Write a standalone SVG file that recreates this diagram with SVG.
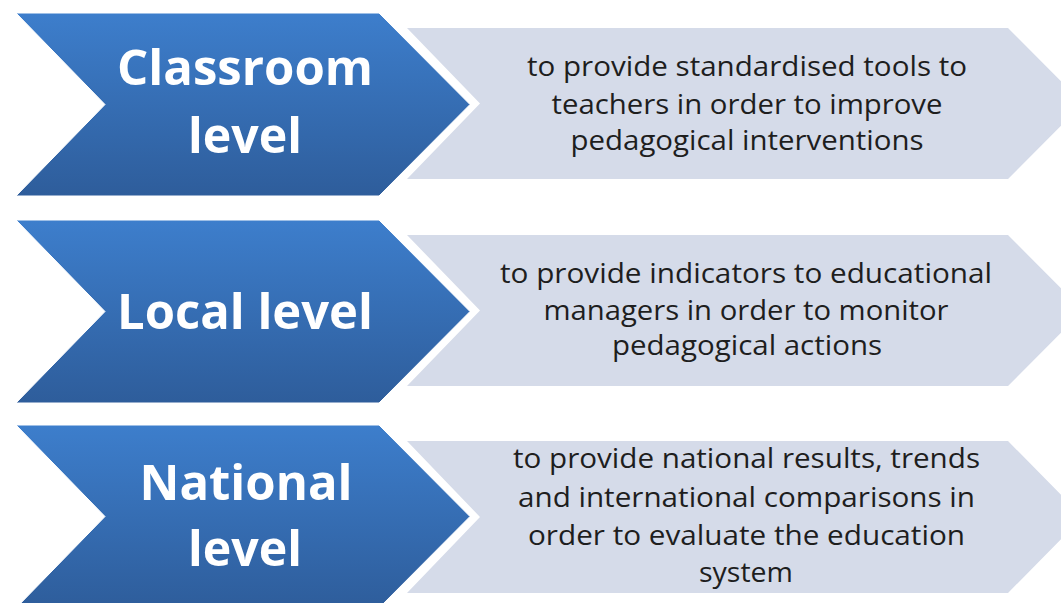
<svg xmlns="http://www.w3.org/2000/svg" width="1061" height="603" viewBox="0 0 1061 603">
<defs>
<linearGradient id="blueGrad" x1="0" y1="0" x2="0" y2="1">
<stop offset="0" stop-color="#3d7ecc"/>
<stop offset="1" stop-color="#2e5d9b"/>
</linearGradient>
</defs>
<style>
.blue{fill:url(#blueGrad);stroke:#ffffff;stroke-width:1}
.gray{fill:#d5dbe9}
.head{font-family:"Open Sans","Liberation Sans",sans-serif;font-weight:bold;font-size:49px;fill:#ffffff;text-anchor:middle}
.desc{font-family:"Open Sans","Liberation Sans",sans-serif;font-size:27px;fill:#1e1e1e;text-anchor:middle}
</style>
<rect width="1061" height="603" fill="#ffffff"/>
<g id="connectors"></g>
<g id="classroom-level">
<polygon class="blue" points="16,13 379,13 470,104.5 379,196 16,196 105,104.5"/>
<text class="head" x="245" y="85" textLength="256" lengthAdjust="spacingAndGlyphs">Classroom</text>
<text class="head" x="245" y="153" textLength="114" lengthAdjust="spacingAndGlyphs">level</text>
</g>
<g id="classroom-desc">
<polygon class="gray" points="407,28 1008,28 1083,103.5 1008,179 407,179 480,103.5"/>
<text class="desc" x="747" y="76" textLength="440" lengthAdjust="spacingAndGlyphs">to provide standardised tools to</text>
<text class="desc" x="747" y="114" textLength="391" lengthAdjust="spacingAndGlyphs">teachers in order to improve</text>
<text class="desc" x="747" y="150" textLength="353" lengthAdjust="spacingAndGlyphs">pedagogical interventions</text>
</g>
<g id="local-level">
<polygon class="blue" points="16,220 379,220 470,311.5 379,403 16,403 105,311.5"/>
<text class="head" x="245" y="328.5" textLength="256" lengthAdjust="spacingAndGlyphs">Local level</text>
</g>
<g id="local-desc">
<polygon class="gray" points="407,235 1008,235 1083,310.5 1008,386 407,386 480,310.5"/>
<text class="desc" x="746" y="283" textLength="492" lengthAdjust="spacingAndGlyphs">to provide indicators to educational</text>
<text class="desc" x="746" y="320" textLength="405" lengthAdjust="spacingAndGlyphs">managers in order to monitor</text>
<text class="desc" x="747" y="355" textLength="270" lengthAdjust="spacingAndGlyphs">pedagogical actions</text>
</g>
<g id="national-level">
<polygon class="blue" points="16,425 379,425 470,516.5 379,608 16,608 105,516.5"/>
<text class="head" x="246" y="500" textLength="213" lengthAdjust="spacingAndGlyphs">National</text>
<text class="head" x="245" y="566" textLength="114" lengthAdjust="spacingAndGlyphs">level</text>
</g>
<g id="national-desc">
<polygon class="gray" points="407,441 1008,441 1083,517 1008,593 407,593 480,517"/>
<text class="desc" x="746.5" y="468" textLength="467" lengthAdjust="spacingAndGlyphs">to provide national results, trends</text>
<text class="desc" x="746.5" y="507" textLength="457" lengthAdjust="spacingAndGlyphs">and international comparisons in</text>
<text class="desc" x="746.5" y="545" textLength="437" lengthAdjust="spacingAndGlyphs">order to evaluate the education</text>
<text class="desc" x="746" y="582" textLength="94" lengthAdjust="spacingAndGlyphs">system</text>
</g>
</svg>
